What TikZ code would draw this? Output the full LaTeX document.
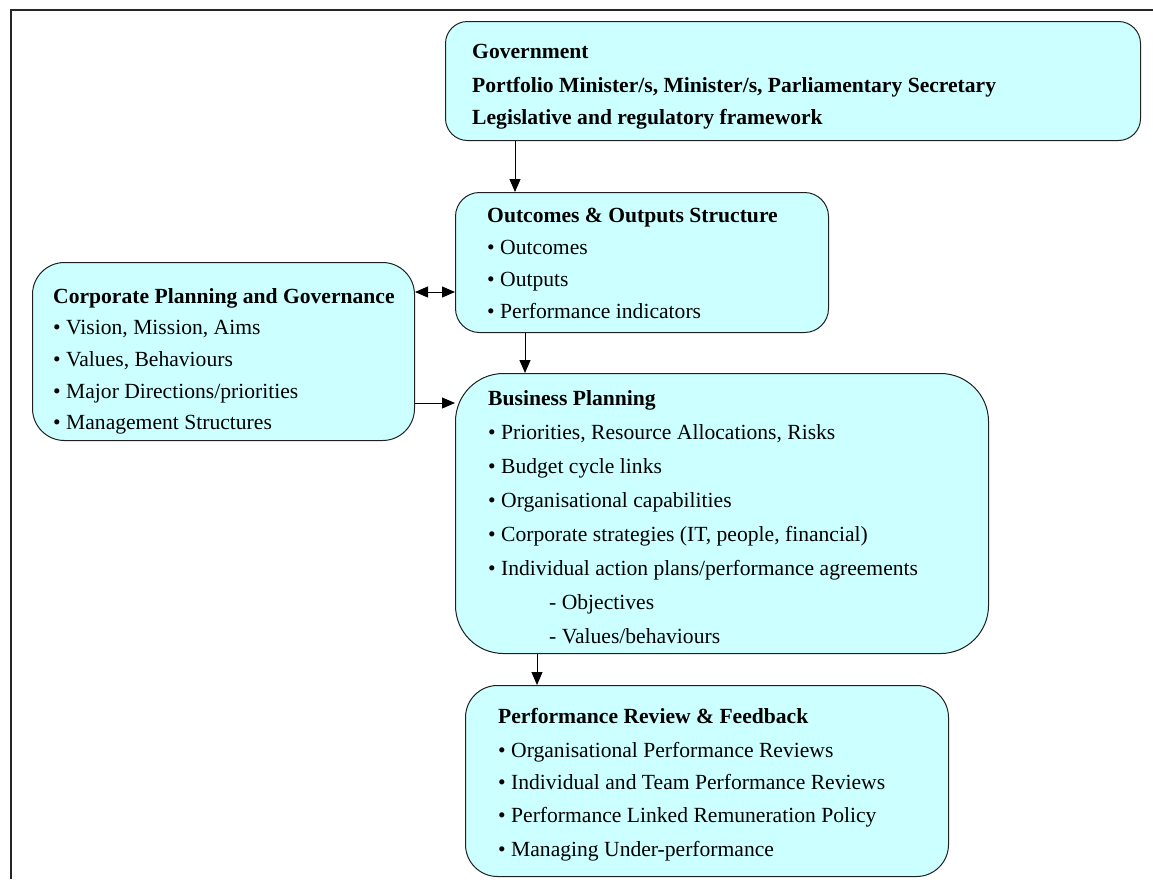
\documentclass[tikz,border=0pt]{standalone}
\usepackage{fontspec}
\setmainfont{Liberation Serif}
\usetikzlibrary{arrows.meta}
\definecolor{boxfill}{HTML}{CCFFFF}
\definecolor{boxline}{HTML}{202020}
\tikzset{
  box/.style={draw=boxline, line width=1pt, fill=boxfill, inner sep=0pt, anchor=north west},
  txt/.style={anchor=base west, inner sep=0pt, font=\fontsize{21.6}{21.6}\selectfont},
  btxt/.style={txt, font=\fontsize{21.6}{21.6}\selectfont\bfseries},
  arr/.style={line width=1pt, -{Triangle[length=13pt,width=11pt]}},
  darr/.style={line width=1pt, {Triangle[length=13pt,width=11pt]}-{Triangle[length=13pt,width=11pt]}}
}
\begin{document}
\begin{tikzpicture}[x=1pt,y=-1pt]
\useasboundingbox (0,0) rectangle (1153,879);
\fill[white] (0,0) rectangle (1153,879);
\draw[line width=1.5pt, black!85] (11,879) -- (11,10) -- (1153,10);

% boxes
\node[box, rounded corners=22pt, minimum width=695pt, minimum height=119pt] (govb) at (445,21) {};
\node[box, rounded corners=24pt, minimum width=373pt, minimum height=140pt] (out) at (455,192) {};
\node[box, rounded corners=32pt, minimum width=382pt, minimum height=178pt] (corp) at (32,262) {};
\node[box, rounded corners=48pt, minimum width=533pt, minimum height=280pt] (bus) at (455,373) {};
\node[box, rounded corners=32pt, minimum width=483pt, minimum height=191pt] (perf) at (465,685) {};

% texts
\node[btxt] at (472,58) {Government};
\node[btxt] at (472,92) {Portfolio Minister/s, Minister/s, Parliamentary Secretary};
\node[btxt] at (472,124) {Legislative and regulatory framework};

\node[btxt] at (487,222) {Outcomes \& Outputs Structure};
\node[txt] at (487,254) {• Outcomes};
\node[txt] at (487,286) {• Outputs};
\node[txt] at (487,318) {• Performance indicators};

\node[btxt] at (53,303) {Corporate Planning and Governance};
\node[txt] at (53,334) {• Vision, Mission, Aims};
\node[txt] at (53,366) {• Values, Behaviours};
\node[txt] at (53,398) {• Major Directions/priorities};
\node[txt] at (53,429) {• Management Structures};

\node[btxt] at (488,405) {Business Planning};
\node[txt] at (488,439) {• Priorities, Resource Allocations, Risks};
\node[txt] at (488,473) {• Budget cycle links};
\node[txt] at (488,507) {• Organisational capabilities};
\node[txt] at (488,541) {• Corporate strategies (IT, people, financial)};
\node[txt] at (488,575) {• Individual action plans/performance agreements};
\node[txt] at (549,609) {- Objectives};
\node[txt] at (549,643) {- Values/behaviours};

\node[btxt] at (498,723) {Performance Review \& Feedback};
\node[txt] at (498,757) {• Organisational Performance Reviews};
\node[txt] at (498,789) {• Individual and Team Performance Reviews};
\node[txt] at (498,822) {• Performance Linked Remuneration Policy};
\node[txt] at (498,856) {• Managing Under-performance};

% connectors
\draw[arr] (govb.south west -| 515,0) -- (out.north west -| 515,0);
\draw[arr] (out.south west -| 525,0) -- (bus.north west -| 525,0);
\draw[arr] (bus.south west -| 537,0) -- (perf.north west -| 537,0);
\draw[darr] (corp.north east |- 0,292) -- (out.north west |- 0,292);
\draw[arr] (corp.north east |- 0,403) -- (bus.north west |- 0,403);
\end{tikzpicture}
\end{document}
